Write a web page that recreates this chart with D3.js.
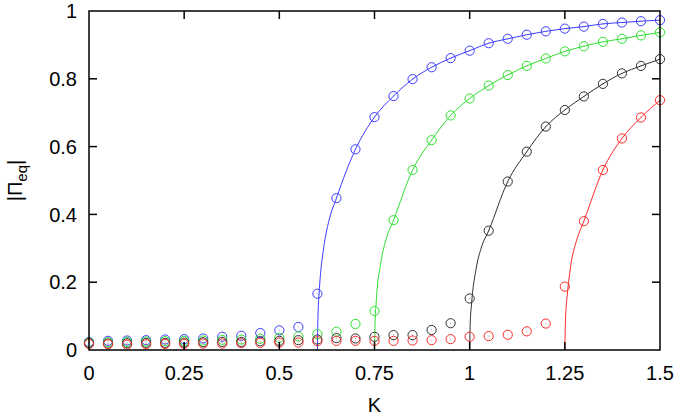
<!DOCTYPE html>
<html>
<head>
<meta charset="UTF-8" />
<style>
  body { margin: 0; background: #fff; }
  svg text { font-family: "Liberation Sans", Arial, Helvetica, sans-serif; fill: #000; }
  .frame { fill: none; stroke: #000; stroke-width: 1.5px; }
  .tick { stroke: #000; stroke-width: 1.5px; }
  .curve { fill: none; stroke-width: 1px; }
  .pt { fill: none; stroke-width: 1px; }
</style>
<script src="https://cdn.jsdelivr.net/npm/d3@7"></script>
</head>
<body>
<svg width="675" height="416"></svg>
<script>
// coupling values (markers)
var kValues = [0, 0.05, 0.1, 0.15, 0.2, 0.25, 0.3, 0.35, 0.4, 0.45, 0.5, 0.55, 0.6, 0.65, 0.7,
  0.75, 0.8, 0.85, 0.9, 0.95, 1, 1.05, 1.1, 1.15, 1.2, 1.25, 1.3, 1.35, 1.4, 1.45, 1.5];

var blueVals = [0.024, 0.027, 0.028, 0.029, 0.031, 0.032, 0.034, 0.039, 0.042, 0.05, 0.058, 0.068,
  0.166, 0.448, 0.592, 0.687, 0.749, 0.799, 0.834, 0.861, 0.883, 0.905, 0.918, 0.93, 0.94, 0.948,
  0.954, 0.962, 0.966, 0.97, 0.973];
var greenVals = [0.022, 0.023, 0.024, 0.025, 0.026, 0.027, 0.028, 0.03, 0.031, 0.033, 0.036, 0.04,
  0.047, 0.054, 0.077, 0.115, 0.383, 0.531, 0.619, 0.692, 0.742, 0.78, 0.811, 0.838, 0.86, 0.881,
  0.896, 0.909, 0.918, 0.928, 0.937];
var blackVals = [0.02, 0.019, 0.02, 0.021, 0.021, 0.022, 0.023, 0.024, 0.024, 0.026, 0.027, 0.029,
  0.031, 0.035, 0.034, 0.039, 0.044, 0.044, 0.059, 0.079, 0.152, 0.352, 0.497, 0.585, 0.659, 0.708,
  0.748, 0.785, 0.816, 0.838, 0.858];
var redVals = [0.018, 0.017, 0.016, 0.017, 0.018, 0.018, 0.019, 0.019, 0.02, 0.021, 0.022, 0.022,
  0.026, 0.027, 0.027, 0.027, 0.027, 0.028, 0.029, 0.032, 0.039, 0.041, 0.045, 0.055, 0.078, 0.187,
  0.38, 0.531, 0.624, 0.686, 0.737];

// points where the solid curves leave the axis
var blueOnsetK = [0.6, 0.6015, 0.6045, 0.617, 0.63];
var blueOnsetR = [0, 0.1, 0.166, 0.305, 0.38];
var greenOnsetK = [0.75, 0.7515, 0.7545, 0.767, 0.78];
var greenOnsetR = [0, 0.08, 0.142, 0.26, 0.325];
var blackOnsetK = [1.0, 1.0015, 1.0045, 1.017, 1.03];
var blackOnsetR = [0, 0.08, 0.13, 0.24, 0.3];
var redOnsetK = [1.25, 1.2515, 1.2545, 1.2566, 1.267, 1.28];
var redOnsetR = [0, 0.08, 0.14, 0.165, 0.26, 0.32];

var xTicks = [0, 0.25, 0.5, 0.75, 1, 1.25, 1.5];
var xTickLabels = ["0", "0.25", "0.5", "0.75", "1", "1.25", "1.5"];
var yTicks = [0, 0.2, 0.4, 0.6, 0.8, 1];
var yTickLabels = ["0", "0.2", "0.4", "0.6", "0.8", "1"];

var series = [
  { color: "#3c3cff", vals: blueVals, onK: blueOnsetK, onR: blueOnsetR },
  { color: "#2ee02e", vals: greenVals, onK: greenOnsetK, onR: greenOnsetR },
  { color: "#303030", vals: blackVals, onK: blackOnsetK, onR: blackOnsetR },
  { color: "#ff2a2a", vals: redVals, onK: redOnsetK, onR: redOnsetR }
];

var pL = 89, pR = 660, pT = 11, pB = 350;
var svg = d3.select("svg");

var x = d3.scaleLinear().domain([0, 1.5]).range([pL, pR]);
var y = d3.scaleLinear().domain([0, 1]).range([pB, pT]);

var line = d3.line()
  .x(function (d) { return x(d[0]); })
  .y(function (d) { return y(d[1]); })
  .curve(d3.curveMonotoneX);

var plot = svg.append("g");

series.forEach(function (s) {
  var onset = s.onK.map(function (k, i) { return [k, s.onR[i]]; });
  var last = s.onK[s.onK.length - 1];
  var rest = kValues.map(function (k, i) { return [k, s.vals[i]]; })
    .filter(function (d) { return d[0] > last; });
  plot.append("path")
    .attr("class", "curve")
    .attr("stroke", s.color)
    .attr("d", line(onset.concat(rest)));
});

series.forEach(function (s) {
  var g = plot.append("g");
  var pts = kValues.map(function (k, i) { return [k, s.vals[i]]; });
  g.selectAll("circle.pt").data(pts).enter().append("circle")
    .attr("class", "pt")
    .attr("stroke", s.color)
    .attr("cx", function (d) { return x(d[0]); })
    .attr("cy", function (d) { return y(d[1]); })
    .attr("r", 4.6);
  g.selectAll("rect.dot").data(pts).enter().append("rect")
    .attr("class", "dot")
    .attr("fill", s.color)
    .attr("opacity", 0.5)
    .attr("x", function (d) { return x(d[0]) - 0.5; })
    .attr("y", function (d) { return y(d[1]) - 0.5; })
    .attr("width", 1).attr("height", 1);
});

// frame
svg.append("rect")
  .attr("class", "frame")
  .attr("x", pL).attr("y", pT)
  .attr("width", pR - pL).attr("height", pB - pT);

// inward ticks, mirrored on top and right
var tl = 8;
var ax = svg.append("g");
xTicks.forEach(function (t, i) {
  if (i > 0 && i < xTicks.length - 1) {
    ax.append("line").attr("class", "tick")
      .attr("x1", x(t)).attr("x2", x(t)).attr("y1", pB).attr("y2", pB - tl);
    ax.append("line").attr("class", "tick")
      .attr("x1", x(t)).attr("x2", x(t)).attr("y1", pT).attr("y2", pT + tl);
  }
  ax.append("text")
    .attr("x", x(t)).attr("y", 380)
    .attr("text-anchor", "middle")
    .style("font-size", "20px")
    .text(xTickLabels[i]);
});
yTicks.forEach(function (t, i) {
  if (i > 0 && i < yTicks.length - 1) {
    ax.append("line").attr("class", "tick")
      .attr("x1", pL).attr("x2", pL + tl).attr("y1", y(t)).attr("y2", y(t));
    ax.append("line").attr("class", "tick")
      .attr("x1", pR).attr("x2", pR - tl).attr("y1", y(t)).attr("y2", y(t));
  }
  ax.append("text")
    .attr("x", 77).attr("y", y(t))
    .attr("dy", "0.36em")
    .attr("text-anchor", "end")
    .style("font-size", "20px")
    .text(yTickLabels[i]);
});

// axis titles
svg.append("text")
  .attr("x", (pL + pR) / 2).attr("y", 412)
  .attr("text-anchor", "middle")
  .style("font-size", "20px")
  .text("K");

var yt = svg.append("text")
  .attr("transform", "translate(22," + ((pT + pB) / 2) + ") rotate(-90)")
  .attr("text-anchor", "middle")
  .style("font-size", "20px");
yt.append("tspan").text("|\u03A0");
yt.append("tspan").attr("dy", 5).style("font-size", "15px").text("eq");
yt.append("tspan").attr("dy", -5).text("|");
</script>
</body>
</html>
